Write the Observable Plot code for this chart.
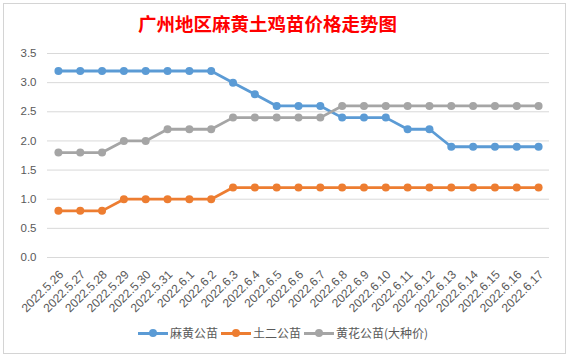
<!DOCTYPE html>
<html><head><meta charset="utf-8">
<script src="https://cdn.jsdelivr.net/npm/d3@7"></script>
<script src="https://cdn.jsdelivr.net/npm/@observablehq/plot@0.6"></script>
<style>
html,body{margin:0;padding:0;background:#fff;width:568px;height:356px;overflow:hidden;}
#frame{position:absolute;left:3px;top:3px;width:561px;height:349px;border:1px solid #d4d4d4;background:#fff;}
#title{position:absolute;left:134px;top:6px;white-space:nowrap;font-family:"Noto Sans CJK SC";font-weight:bold;font-size:18.5px;color:#ff0000;line-height:26px;}
#chart{position:absolute;left:0;top:0;}
#legend{position:absolute;left:134px;top:319px;display:flex;gap:3px;font-family:"Noto Sans CJK SC";font-size:12px;color:#595959;line-height:20px;}
.item{display:flex;align-items:center;}
.sw{position:relative;width:30px;height:20px;margin-right:2px;}
.sw .ln{position:absolute;left:0;top:8.5px;width:30px;height:3px;}
.sw .dt{position:absolute;left:11px;top:6px;width:8px;height:8px;border-radius:50%;}
</style></head>
<body>
<div id="frame">
  <div id="chart"></div>
  <div id="title">广州地区麻黄土鸡苗价格走势图</div>
  <div id="legend"></div>
</div>
<script>
const dates = ["2022.5.26","2022.5.27","2022.5.28","2022.5.29","2022.5.30","2022.5.31","2022.6.1","2022.6.2","2022.6.3","2022.6.4","2022.6.5","2022.6.6","2022.6.7","2022.6.8","2022.6.9","2022.6.10","2022.6.11","2022.6.12","2022.6.13","2022.6.14","2022.6.15","2022.6.16","2022.6.17"];
const seriesNames = ["麻黄公苗","土二公苗","黄花公苗(大种价)"];
const seriesColors = ["#5b9bd5","#ed7d31","#a5a5a5"];
const mahuang = [3.2,3.2,3.2,3.2,3.2,3.2,3.2,3.2,3.0,2.8,2.6,2.6,2.6,2.4,2.4,2.4,2.2,2.2,1.9,1.9,1.9,1.9,1.9];
const tuer = [0.8,0.8,0.8,1.0,1.0,1.0,1.0,1.0,1.2,1.2,1.2,1.2,1.2,1.2,1.2,1.2,1.2,1.2,1.2,1.2,1.2,1.2,1.2];
const huanghua = [1.8,1.8,1.8,2.0,2.0,2.2,2.2,2.2,2.4,2.4,2.4,2.4,2.4,2.6,2.6,2.6,2.6,2.6,2.6,2.6,2.6,2.6,2.6];
const yTicks = [0,0.5,1.0,1.5,2.0,2.5,3.0,3.5];

const seriesValues = [mahuang, tuer, huanghua];
const data = [];
seriesValues.forEach((vals, si) => vals.forEach((v, i) => data.push({date: dates[i], value: v, series: seriesNames[si]})));

const font = "Liberation Sans";
const chart = Plot.plot({
  width: 561, height: 349,
  marginTop: 49, marginBottom: 96, marginLeft: 43, marginRight: 16,
  style: {fontFamily: font, background: "transparent"},
  x: {type: "point", domain: dates, padding: 0.5, round: false, label: null},
  y: {domain: [0, 3.5], label: null},
  color: {domain: seriesNames, range: seriesColors},
  marks: [
    Plot.ruleY(yTicks, {stroke: "#d9d9d9", strokeWidth: 1}),
    Plot.axisY(yTicks, {tickSize: 0, tickPadding: 11, tickFormat: d => d.toFixed(1), fill: "#595959", fontSize: 11.5, label: null}),
    Plot.axisX({tickSize: 0, tickRotate: -45, tickPadding: 15, dx: 3, fill: "#595959", fontSize: 12, label: null}),
    Plot.line(data, {x: "date", y: "value", z: "series", stroke: "series", strokeWidth: 2.8}),
    Plot.dot(data, {x: "date", y: "value", fill: "series", r: 4})
  ]
});
document.getElementById("chart").appendChild(chart);

const legend = document.getElementById("legend");
seriesNames.forEach((n, i) => {
  const it = document.createElement("div"); it.className = "item";
  it.innerHTML = `<div class="sw"><div class="ln" style="background:${seriesColors[i]}"></div><div class="dt" style="background:${seriesColors[i]}"></div></div><span>${n}</span>`;
  legend.appendChild(it);
});
</script>
</body></html>
